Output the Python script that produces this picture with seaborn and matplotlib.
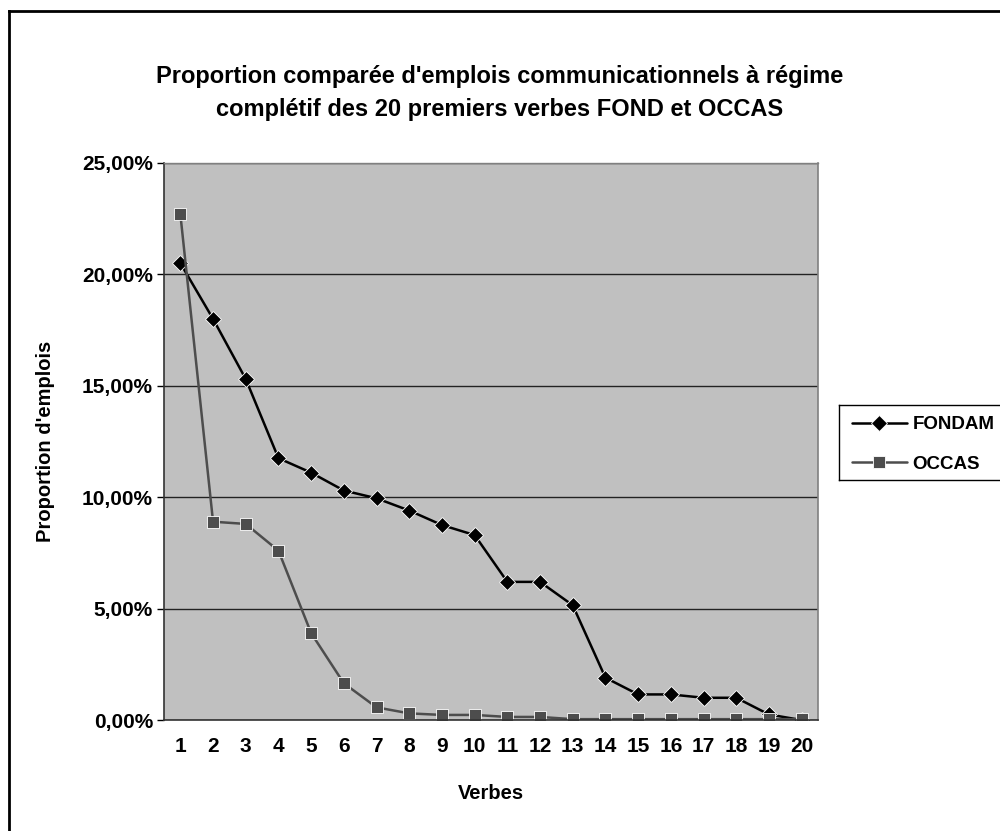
import pandas as pd
import seaborn as sns
import matplotlib.pyplot as plt
from matplotlib.lines import Line2D
from matplotlib.ticker import FuncFormatter, FixedLocator

# valeurs (en %)
verbes = list(range(1, 21))
fondam = [20.5, 18.0, 15.3, 11.75, 11.1, 10.3, 9.95, 9.4, 8.75, 8.3,
          6.2, 6.2, 5.15, 1.9, 1.15, 1.15, 1.0, 1.0, 0.25, 0.0]
occas = [22.7, 8.9, 8.8, 7.6, 3.9, 1.65, 0.57, 0.3, 0.23, 0.23,
         0.14, 0.14, 0.04, 0.04, 0.04, 0.04, 0.04, 0.04, 0.04, 0.04]

df = pd.concat([
    pd.DataFrame({"verbe": verbes, "prop": fondam, "serie": "FONDAM"}),
    pd.DataFrame({"verbe": verbes, "prop": occas, "serie": "OCCAS"}),
], ignore_index=True)

sns.set_style("white")
plt.rcParams["font.family"] = ["Liberation Sans", "DejaVu Sans"]
plt.rcParams["font.weight"] = "bold"
plt.rcParams["text.color"] = "black"
plt.rcParams["axes.labelcolor"] = "black"
plt.rcParams["xtick.color"] = "black"
plt.rcParams["ytick.color"] = "black"

fig = plt.figure(figsize=(10, 8.31), dpi=100)
ax = fig.add_axes([0.164, 0.1335, 0.654, 0.6705])

def fig_line(xs, ys, lw):
    fig.add_artist(Line2D(xs, ys, transform=fig.transFigure, color="black",
                          linewidth=lw, solid_capstyle="projecting"))

# cadre du graphique (coupé à droite et en bas comme dans l'original)
fig_line([0.009, 0.009], [0.0, 0.9868], 2.0)
fig_line([0.009, 1.0], [0.9868, 0.9868], 2.0)

sns.lineplot(
    data=df, x="verbe", y="prop", hue="serie", style="serie",
    palette={"FONDAM": "#000000", "OCCAS": "#4d4d4d"},
    markers={"FONDAM": "D", "OCCAS": "s"}, dashes=False,
    markersize=8.5, linewidth=1.8, markeredgewidth=0.6, ax=ax,
)

ax.set_facecolor("#c0c0c0")
ax.set_xlim(0.5, 20.5)
ax.set_ylim(0, 25)
ax.set_yticks([0, 5, 10, 15, 20, 25])
ax.yaxis.set_major_formatter(FuncFormatter(lambda v, p: f"{v:.2f}%".replace(".", ",")))
ax.grid(axis="y", color="#222222", linewidth=1.0)
ax.set_axisbelow(True)

# graduations entre les catégories, étiquettes au centre
ax.set_xticks(verbes)
ax.set_xticklabels([str(v) for v in verbes])
ax.xaxis.set_minor_locator(FixedLocator([v + 0.5 for v in range(0, 21)]))
ax.tick_params(axis="x", which="major", length=0, pad=12, labelsize=15)
ax.tick_params(axis="x", which="minor", length=5, width=1, color="black", direction="out")
ax.tick_params(axis="y", which="major", length=5, width=1, color="black",
               direction="out", labelsize=15, pad=3)
ax.tick_params(left=True, bottom=True)

for side in ["left", "bottom"]:
    ax.spines[side].set_color("#333333")
    ax.spines[side].set_linewidth(1.2)
ax.spines["right"].set_color("#808080")
ax.spines["right"].set_linewidth(1.2)
ax.spines["top"].set_color("#808080")
ax.spines["top"].set_linewidth(1.0)

ax.set_xlabel("Verbes", fontsize=14.5, fontweight="bold", labelpad=20)
ax.set_ylabel("Proportion d'emplois", fontsize=14.5, fontweight="bold", labelpad=19)

fig.text(0.5, 0.888, "Proportion comparée d'emplois communicationnels à régime\n"
         "complétif des 20 premiers verbes FOND et OCCAS",
         ha="center", va="center", fontsize=17, fontweight="bold", linespacing=1.55)

# légende sans cadre, le cadre est tracé à part (coupé à droite)
leg = ax.legend(loc="upper left", bbox_to_anchor=(0.841, 0.5126),
                bbox_transform=fig.transFigure, frameon=False, fontsize=13.5,
                handlelength=2.9, handletextpad=0.3, borderpad=0.6,
                labelspacing=1.2, borderaxespad=0)
fig_line([0.839, 0.839], [0.4224, 0.5126], 1.0)
fig_line([0.839, 1.0], [0.5126, 0.5126], 1.0)
fig_line([0.839, 1.0], [0.4224, 0.4224], 1.0)

fig.savefig("out.png", dpi=100)
